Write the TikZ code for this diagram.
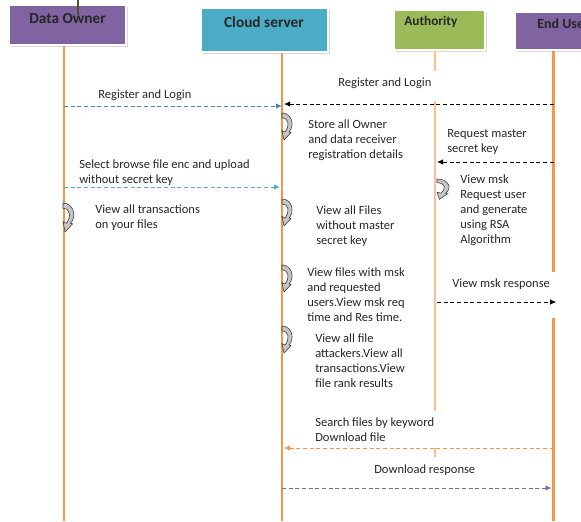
\documentclass[tikz,border=0pt]{standalone}
\usepackage{fontspec}
\setmainfont{Carlito}
\usetikzlibrary{arrows.meta,shadows}
\definecolor{ownerpurple}{HTML}{8064A2}
\definecolor{cloudteal}{HTML}{4BACC6}
\definecolor{authgreen}{HTML}{9BBB59}
\definecolor{lineorange}{HTML}{F79646}
\definecolor{linelight}{HTML}{FAC08F}
\definecolor{msgblue}{HTML}{4F81BD}
\tikzstyle{actor}=[draw=white,line width=1.2pt,inner sep=0pt,drop shadow={shadow xshift=1.5pt,shadow yshift=-1.5pt,fill=black!30}]
\tikzstyle{actortext}=[font=\bfseries\fontsize{11.5}{13}\selectfont,inner sep=0pt,text=black!85]
\tikzstyle{lifeline}=[draw=lineorange,line width=2.2pt]
\tikzstyle{msg}=[dash pattern=on 3pt off 2pt,line width=0.6pt,-{Latex[length=4.5pt,width=4pt]}]
\tikzstyle{msgtext}=[font=\fontsize{9.4}{11.25}\selectfont,inner sep=0pt,align=left,text=black!85,anchor=base west]
\tikzset{selfloop/.pic={
  \path[fill=gray!45,draw=black!80,line width=0.4pt] (0,0) .. controls (10,0) and (13,13) .. (7,19)
    -- (9,19.5) -- (2,27) -- (0,17.5) -- (3,19) .. controls (8,13) and (7,5) .. (0,5) -- cycle;}}

\begin{document}
\begin{tikzpicture}[x=0.75pt,y=-0.75pt]
\useasboundingbox (0,0) rectangle (581,521);

\node[actor,fill=ownerpurple,minimum width=87.75pt,minimum height=30pt] (owner) at (67.5,25) {};
\node[actor,fill=cloudteal,minimum width=95.25pt,minimum height=33pt] (cloud) at (264.5,30) {};
\node[actor,fill=authgreen,minimum width=68.25pt,minimum height=30pt] (auth) at (439.5,30) {};
\node[actor,fill=ownerpurple,minimum width=93.75pt,minimum height=28.5pt] (enduser) at (577.5,31) {};
\node[actortext,anchor=base] (ownertitle) at (67.5,23) {Data Owner};
\node[actortext,anchor=base] (cloudtitle) at (264,27) {Cloud server};
\node[actortext,anchor=base west,font=\bfseries\fontsize{10}{12}\selectfont] (authtitle) at (404,25) {Authority};
\node[actortext,anchor=base west,font=\bfseries\fontsize{10.5}{12}\selectfont] (endtitle) at (537,28) {End User};
\draw[authgreen!45!black,line width=0.8pt] (78,0) -- (78,15);

\coordinate (ownerline) at (64,0);
\coordinate (cloudline) at (282,0);
\coordinate (authline) at (435,0);
\coordinate (endline) at (553.5,0);

\draw[lifeline] (ownerline |- owner.south) -- (ownerline |- 0,521);
\draw[lifeline] (cloudline |- cloud.south) -- (cloudline |- 0,521);
\draw[lifeline,draw=linelight] (authline |- auth.south) -- (authline |- 0,71);
\draw[lifeline,draw=linelight] (authline |- 0,101) -- (authline |- 0,411);
\draw[lifeline,draw=linelight] (authline |- 0,448) -- (authline |- 0,457);
\draw[lifeline] (endline |- enduser.south) -- (endline |- 0,272);
\draw[lifeline] (endline |- 0,318) -- (endline |- 0,521);

\draw[msg,draw=msgblue] (ownerline |- 0,106) -- (cloudline |- 0,106);
\draw[msg,draw=black,shorten >=1.5pt] (endline |- 0,104) -- (cloudline |- 0,104);
\draw[msg,draw=black,shorten >=1.5pt] (endline |- 0,162) -- (authline |- 0,162);
\draw[msg,draw=cloudteal,shorten >=1.5pt] (ownerline |- 0,187) -- (cloudline |- 0,187);
\draw[msg,draw=black,shorten <=1.5pt,shorten >=-2pt] (authline |- 0,302) -- (endline |- 0,302);
\draw[msg,draw=lineorange,shorten >=1.5pt] (endline |- 0,448) -- (cloudline |- 0,448);
\draw[msg,draw=ownerpurple,shorten >=1.5pt] (cloudline |- 0,488) -- (endline |- 0,488);

\pic at (282,113) {selfloop};
\pic[scale=1.07] at (63,203) {selfloop};
\pic at (282,199) {selfloop};
\pic[xscale=1.2,yscale=0.75] at (437,179) {selfloop};
\pic at (282,265) {selfloop};
\pic at (282,326) {selfloop};

\node[msgtext] (regowner) at (98,98) {Register and Login};
\node[msgtext] (reguser) at (338,86) {Register and Login};
\node[msgtext] (store) at (308,158) {Store all Owner\\and data receiver\\registration details};
\node[msgtext] (reqmsk) at (447,152) {Request master\\secret key};
\node[msgtext] (viewmsk) at (460,243) {View msk\\Request user\\and generate\\using RSA\\Algorithm};
\node[msgtext] (upload) at (79,183) {Select browse file enc and upload\\without secret key};
\node[msgtext] (ownertrans) at (95,228) {View all transactions\\on your files};
\node[msgtext] (cloudfiles) at (316,244) {View all Files\\without master\\secret key};
\node[msgtext] (cloudmsk) at (307,321) {View files with msk\\and requested\\users.View msk req\\time and Res time.};
\node[msgtext] (mskresp) at (452,287) {View msk response};
\node[msgtext] (attackers) at (315,387) {View all file\\attackers.View all\\transactions.View\\file rank results};
\node[msgtext] (search) at (315,441) {Search files by keyword\\Download file};
\node[msgtext] (download) at (374,473) {Download response};
\end{tikzpicture}
\end{document}
